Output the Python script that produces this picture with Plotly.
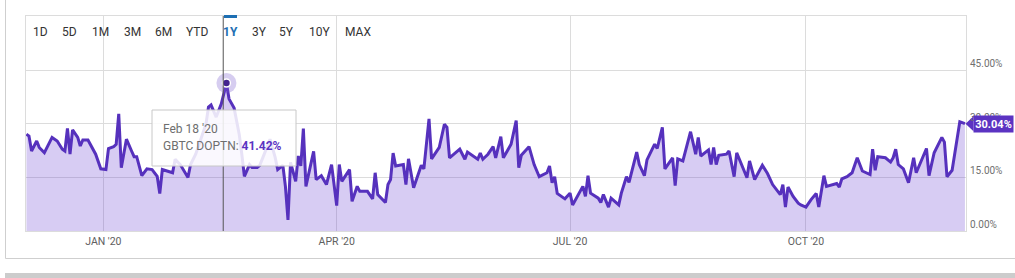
import plotly.graph_objects as go
import pandas as pd

# ---------------- data ----------------
dates = [
    "2019-12-02", "2019-12-03", "2019-12-04", "2019-12-06", "2019-12-07", "2019-12-09",
    "2019-12-12", "2019-12-14", "2019-12-16", "2019-12-17", "2019-12-18", "2019-12-19",
    "2019-12-20", "2019-12-22", "2019-12-23", "2019-12-24", "2019-12-26", "2019-12-29",
    "2019-12-31", "2020-01-02", "2020-01-03", "2020-01-05", "2020-01-06", "2020-01-07",
    "2020-01-08", "2020-01-10", "2020-01-12", "2020-01-13", "2020-01-14", "2020-01-16",
    "2020-01-18", "2020-01-20", "2020-01-22", "2020-01-23", "2020-01-24", "2020-01-26",
    "2020-01-28", "2020-01-29", "2020-01-31", "2020-02-03", "2020-02-04", "2020-02-06",
    "2020-02-08", "2020-02-10", "2020-02-11", "2020-02-12", "2020-02-14", "2020-02-16",
    "2020-02-18", "2020-02-19", "2020-02-21", "2020-02-23", "2020-02-24", "2020-02-25",
    "2020-02-27", "2020-02-28", "2020-03-01", "2020-03-02", "2020-03-04", "2020-03-06",
    "2020-03-08", "2020-03-09", "2020-03-11", "2020-03-12", "2020-03-13", "2020-03-14",
    "2020-03-16", "2020-03-17", "2020-03-18", "2020-03-19", "2020-03-20", "2020-03-23",
    "2020-03-24", "2020-03-26", "2020-03-28", "2020-03-30", "2020-04-01", "2020-04-02",
    "2020-04-03", "2020-04-06", "2020-04-07", "2020-04-09", "2020-04-10", "2020-04-13",
    "2020-04-15", "2020-04-16", "2020-04-17", "2020-04-20", "2020-04-21", "2020-04-22",
    "2020-04-23", "2020-04-24", "2020-04-27", "2020-04-28", "2020-04-29", "2020-05-01",
    "2020-05-04", "2020-05-05", "2020-05-07", "2020-05-08", "2020-05-11", "2020-05-13",
    "2020-05-14", "2020-05-15", "2020-05-19", "2020-05-21", "2020-05-22", "2020-05-26",
    "2020-05-27", "2020-05-28", "2020-05-30", "2020-06-01", "2020-06-02", "2020-06-04",
    "2020-06-05", "2020-06-08", "2020-06-10", "2020-06-11", "2020-06-12", "2020-06-15",
    "2020-06-17", "2020-06-19", "2020-06-22", "2020-06-23", "2020-06-24", "2020-06-25",
    "2020-06-26", "2020-06-29", "2020-07-01", "2020-07-02", "2020-07-06", "2020-07-07",
    "2020-07-08", "2020-07-09", "2020-07-12", "2020-07-13", "2020-07-14", "2020-07-16",
    "2020-07-17", "2020-07-20", "2020-07-21", "2020-07-23", "2020-07-24", "2020-07-27",
    "2020-07-28", "2020-07-30", "2020-07-31", "2020-08-03", "2020-08-04", "2020-08-06",
    "2020-08-07", "2020-08-10", "2020-08-11", "2020-08-12", "2020-08-14", "2020-08-17",
    "2020-08-19", "2020-08-20", "2020-08-21", "2020-08-24", "2020-08-25", "2020-08-26",
    "2020-08-27", "2020-08-28", "2020-08-31", "2020-09-01", "2020-09-03", "2020-09-04",
    "2020-09-08", "2020-09-09", "2020-09-11", "2020-09-14", "2020-09-16", "2020-09-18",
    "2020-09-21", "2020-09-22", "2020-09-23", "2020-09-24", "2020-09-26", "2020-09-28",
    "2020-09-29", "2020-10-01", "2020-10-03", "2020-10-05", "2020-10-06", "2020-10-08",
    "2020-10-09", "2020-10-13", "2020-10-14", "2020-10-15", "2020-10-17", "2020-10-19",
    "2020-10-21", "2020-10-23", "2020-10-26", "2020-10-27", "2020-10-28", "2020-10-29",
    "2020-11-01", "2020-11-03", "2020-11-04", "2020-11-05", "2020-11-06", "2020-11-08",
    "2020-11-10", "2020-11-12", "2020-11-13", "2020-11-17", "2020-11-18", "2020-11-20",
    "2020-11-23", "2020-11-24", "2020-11-25", "2020-11-27", "2020-11-30", "2020-12-02",
]
values = [
    27.1, 26.6, 22.4, 25.2, 23.4, 21.9,
    26.2, 25.2, 22.9, 22.4, 28.7, 21.5,
    28.3, 26.2, 23.8, 25.5, 25.5, 21.5,
    17.4, 17.2, 23.1, 23.6, 24.3, 32.8,
    17.7, 25.7, 22.4, 20.8, 20.8, 15.5,
    17.4, 17.2, 15.3, 10.5, 17.2, 16.8,
    16.3, 20.1, 18.6, 15.0, 18.6, 21.5,
    25.7, 29.9, 34.7, 35.3, 31.9, 35.6,
    41.42, 37.0, 34.4, 27.0, 21.5, 15.3,
    18.6, 17.8, 17.8, 18.4, 22.0, 25.7,
    20.6, 17.2, 18.4, 12.5, 3.1, 19.2,
    13.9, 21.0, 18.2, 28.7, 12.5, 22.3,
    14.4, 15.5, 13.0, 18.6, 7.1, 18.6,
    13.9, 17.2, 8.3, 12.5, 11.1, 11.1,
    9.0, 16.3, 10.2, 8.0, 13.0, 14.4,
    21.8, 18.2, 18.6, 13.0, 20.2, 12.1,
    18.4, 17.4, 31.4, 20.2, 23.4, 29.9,
    29.0, 20.5, 22.9, 20.1, 22.1, 20.1,
    21.8, 20.1, 21.5, 23.6, 20.5, 26.4,
    20.5, 24.3, 30.9, 17.7, 21.2, 23.6,
    18.6, 15.2, 16.3, 18.2, 13.5, 15.2,
    10.5, 9.0, 10.6, 7.3, 12.5, 9.7,
    15.5, 10.6, 9.2, 8.0, 10.2, 6.7,
    9.2, 7.3, 10.6, 15.2, 13.6, 22.1,
    18.6, 15.5, 19.9, 24.3, 23.1, 29.0,
    17.4, 20.5, 12.7, 20.2, 19.6, 27.8,
    21.5, 26.2, 21.0, 22.7, 18.6, 23.4,
    18.6, 21.2, 21.5, 22.4, 15.2, 21.9,
    14.9, 19.6, 14.4, 18.4, 16.1, 13.0,
    10.2, 13.0, 6.7, 12.3, 9.7, 7.8,
    7.3, 6.7, 8.8, 10.5, 6.7, 15.5,
    12.5, 13.3, 12.3, 14.6, 15.2, 16.3,
    20.5, 16.8, 15.8, 22.9, 17.0, 20.8,
    20.5, 19.3, 20.5, 22.9, 18.6, 17.4,
    13.5, 20.5, 16.3, 23.1, 15.5, 21.9,
    26.2, 24.9, 15.2, 17.0, 30.6, 30.04,
]
series_name = "GBTC DOPTN"
x_tick_vals = ["2020-01-01", "2020-04-01", "2020-07-01", "2020-10-01"]
x_tick_text = ["JAN '20", "APR '20", "JUL '20", "OCT '20"]
y_tick_vals = [0, 15, 30, 45]
range_buttons = ["1D", "5D", "1M", "3M", "6M", "YTD", "1Y", "3Y", "5Y", "10Y", "MAX"]
active_button = "1Y"
hover_date = "2020-02-18"

# ---------------- style / layout ----------------
W, H = 1015, 278
ML, MR, MT, MB = 26, 49, 16, 47
PW, PH = W - ML - MR, H - MT - MB
Y_MAX = 60.2
X_RANGE = ["2019-12-01 20:00", "2020-12-02 10:00"]

LINE_C = "#5631bd"
FILL_C = "rgba(112,72,212,0.28)"
TAG_C = "#5b33c2"
GRID_C = "#dcdcdc"
FONT = "Roboto"


def px2x(px):
    return (px - ML) / PW


def px2y(py):
    return (H - MB - py) / PH


fig = go.Figure()
fig.add_trace(go.Scatter(
    x=dates, y=values, mode="lines", fill="tozeroy",
    line=dict(color=LINE_C, width=3), fillcolor=FILL_C,
    hoverinfo="skip", showlegend=False,
))

# highlighted point
hi = dates.index(hover_date)
fig.add_trace(go.Scatter(
    x=[dates[hi]], y=[values[hi]], mode="markers",
    marker=dict(size=20, color="rgba(120,90,205,0.30)"),
    hoverinfo="skip", showlegend=False,
))
fig.add_trace(go.Scatter(
    x=[dates[hi]], y=[values[hi]], mode="markers",
    marker=dict(size=8, color="#43238f", line=dict(color="white", width=1.5)),
    hoverinfo="skip", showlegend=False,
))

shapes = []
# hover spike line
spike_x = pd.Timestamp(dates[hi]) - pd.Timedelta(hours=30)
shapes.append(dict(type="line", xref="x", yref="y", x0=spike_x, x1=spike_x, y0=0, y1=Y_MAX,
                   line=dict(color="#555555", width=1), layer="above"))
# outer frame
shapes.append(dict(type="line", xref="paper", yref="paper", x0=px2x(5.5), x1=px2x(5.5),
                   y0=px2y(0), y1=px2y(258.5), line=dict(color="#cfcfcf", width=1)))
shapes.append(dict(type="line", xref="paper", yref="paper", x0=px2x(5.5), x1=px2x(W),
                   y0=px2y(258.5), y1=px2y(258.5), line=dict(color="#cfcfcf", width=1)))
shapes.append(dict(type="rect", xref="paper", yref="paper", x0=px2x(5), x1=px2x(W),
                   y0=px2y(273), y1=px2y(H + 2), line=dict(width=0), fillcolor="#cccccc"))
# active button marker
shapes.append(dict(type="rect", xref="paper", yref="paper", x0=px2x(224), x1=px2x(237),
                   y0=px2y(15), y1=px2y(18), line=dict(width=0), fillcolor="#1d6fb3"))
# tooltip box
shapes.append(dict(type="rect", xref="paper", yref="paper", x0=px2x(152), x1=px2x(296),
                   y0=px2y(110), y1=px2y(166), line=dict(color="#c8c8c8", width=1),
                   fillcolor="rgba(255,255,255,0.86)", layer="above"))
# last value tag arrow
last_v = values[-1]
cy = last_v / Y_MAX
hh = 7.5 / PH
shapes.append(dict(type="path", xref="paper", yref="paper",
                   path=f"M {px2x(965.5)},{cy} L {px2x(973.5)},{cy + hh} L {px2x(973.5)},{cy - hh} Z",
                   fillcolor=TAG_C, line=dict(width=0), layer="above"))

annotations = []
# range buttons
button_px = [40.5, 69.7, 100, 132, 163.3, 196.7, 230.5, 259.3, 286.3, 319, 358]
for lab, bx in zip(range_buttons, button_px):
    active = lab == active_button
    annotations.append(dict(
        x=px2x(bx), y=px2y(32.3), xref="paper", yref="paper", showarrow=False,
        text=f"<b>{lab}</b>" if active else lab, xanchor="center", yanchor="middle",
        font=dict(family=FONT, size=12, color="#1d6fb3" if active else "#333333"),
    ))
# right y labels (above gridlines)
for v in y_tick_vals:
    annotations.append(dict(
        x=1, y=v / Y_MAX, xref="paper", yref="paper", showarrow=False,
        text=f"{v:.2f}%", xanchor="left", yanchor="bottom", xshift=2, yshift=-1,
        font=dict(family=FONT, size=10, color="#707070"),
    ))
# tooltip text
hd = pd.Timestamp(dates[hi])
annotations.append(dict(
    x=px2x(161), y=px2y(128.5), xref="paper", yref="paper", showarrow=False,
    text=hd.strftime("%b %d '%y"), xanchor="left", yanchor="middle",
    font=dict(family=FONT, size=12, color="#6e6e6e"),
))
annotations.append(dict(
    x=px2x(161), y=px2y(145.5), xref="paper", yref="paper", showarrow=False,
    text=f"{series_name}: <b><span style='color:{TAG_C}'>{values[hi]:.2f}%</span></b>",
    xanchor="left", yanchor="middle",
    font=dict(family=FONT, size=12, color="#6e6e6e"),
))
# last value tag
annotations.append(dict(
    x=px2x(973), y=cy, xref="paper", yref="paper", showarrow=False,
    text=f"<b>{last_v:.2f}%</b>", xanchor="left", yanchor="middle",
    width=37, height=14, bgcolor=TAG_C, borderpad=1,
    font=dict(family=FONT, size=11, color="white"),
))

fig.update_layout(
    width=W, height=H,
    margin=dict(l=ML, r=MR, t=MT, b=MB, pad=0),
    paper_bgcolor="white", plot_bgcolor="white",
    font=dict(family=FONT),
    hovermode=False,
    showlegend=False,
    shapes=shapes,
    annotations=annotations,
    xaxis=dict(
        type="date", range=X_RANGE, tickvals=x_tick_vals, ticktext=x_tick_text,
        showgrid=True, gridcolor=GRID_C, gridwidth=1, zeroline=False,
        showline=True, linecolor=GRID_C, mirror=True, ticks="",
        tickfont=dict(family=FONT, size=10.5, color="#606060"),
        fixedrange=True,
    ),
    yaxis=dict(
        range=[0, Y_MAX], tickvals=y_tick_vals, showticklabels=False,
        showgrid=True, gridcolor=GRID_C, gridwidth=1, zeroline=False,
        showline=True, linecolor=GRID_C, mirror=True, ticks="",
        fixedrange=True,
    ),
)

fig.write_html("out.html")
